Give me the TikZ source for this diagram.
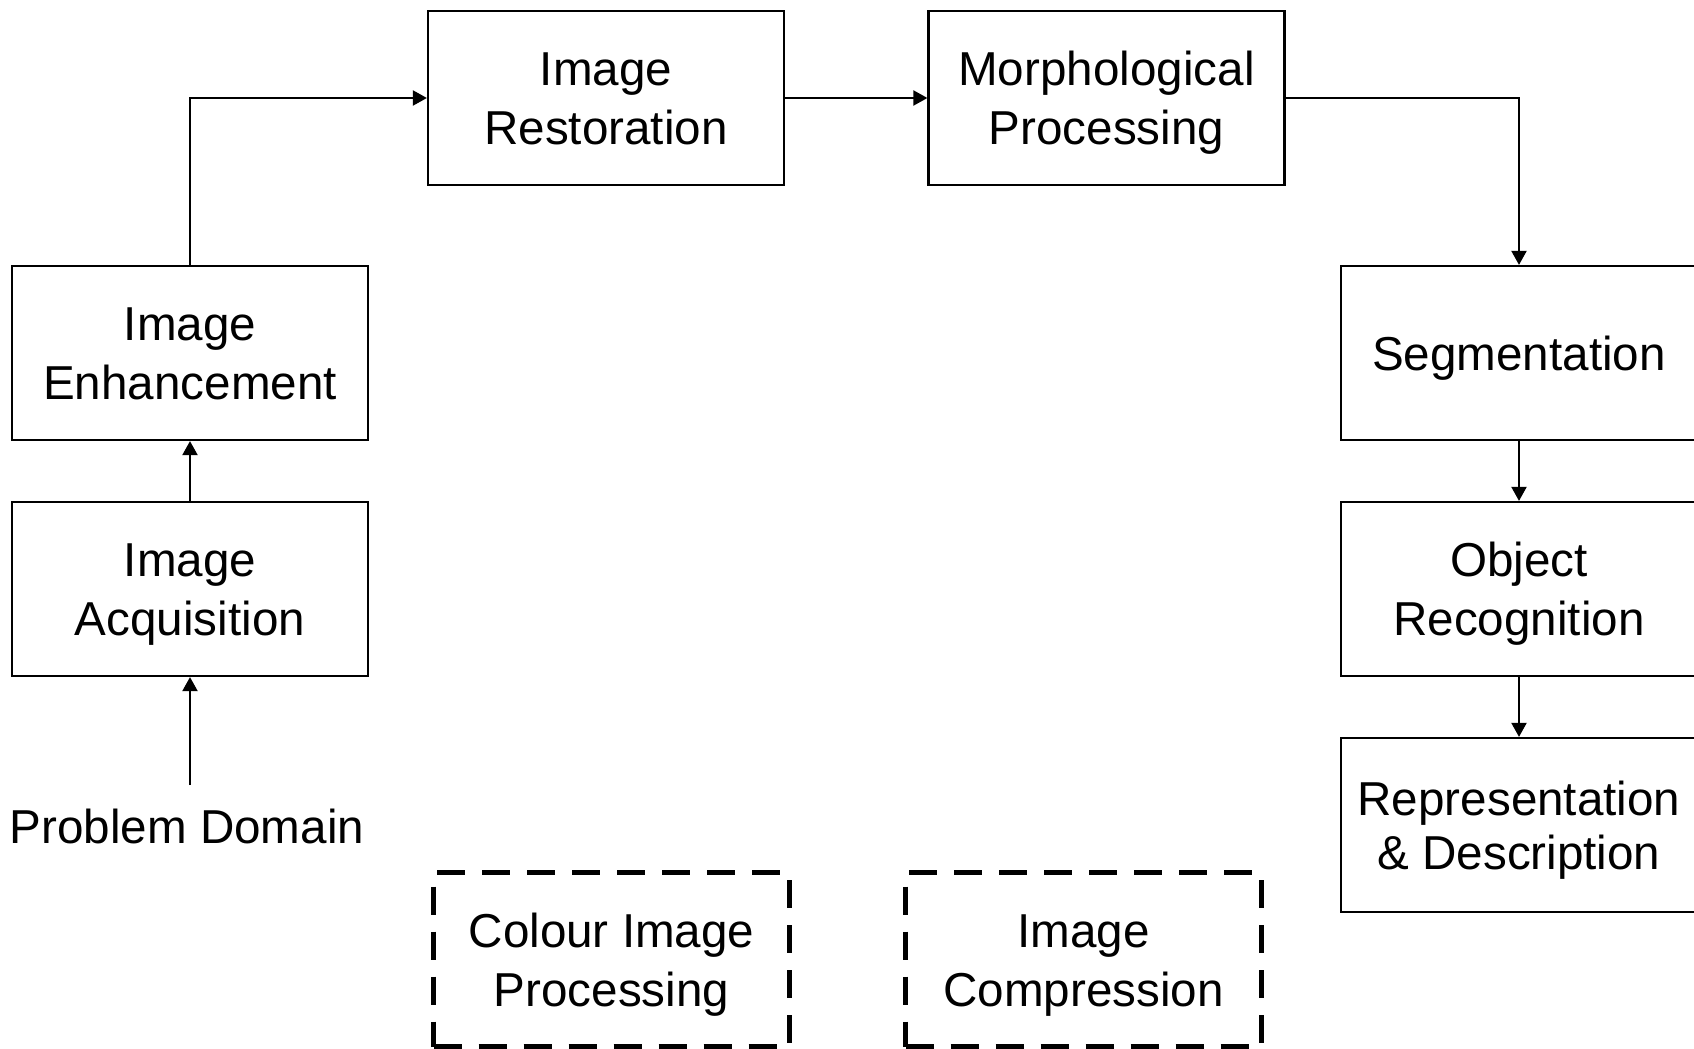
\documentclass[tikz,border=0pt]{standalone}
\usepackage{fontspec}
\setmainfont{Liberation Sans}
\usetikzlibrary{arrows.meta}
\newcommand{\bst}{\rule[-5pt]{0pt}{27pt}}
\tikzset{
  box/.style={draw=black, line width=1.1pt, minimum width=178pt, minimum height=87pt,
    align=center, inner sep=0pt, font=\fontsize{23.8}{29.5}\selectfont},
  dbox/.style={box, line width=2.2pt, dash pattern=on 14pt off 8.5pt},
  arr/.style={line width=1pt, -{Triangle[length=7pt,width=7.5pt]}}
}
\begin{document}
\begin{tikzpicture}[x=0.5pt,y=-0.5pt]
\useasboundingbox (0,0) rectangle (1694,1049);
\clip (0,0) rectangle (1694,1049);
\node[box] (res) at (606,98) {\bst Image\\\bst Restoration};
\node[box] (mor) at (1106.5,98) {\bst Morphological\\\bst Processing};
\node[box] (enh) at (190,353) {\bst Image\\\bst Enhancement};
\node[box] (acq) at (190,589) {\bst Image\\\bst Acquisition};
\node[box] (seg) at (1519,353) {\bst Segmentation};
\node[box] (obj) at (1519,589) {\bst Object\\\bst Recognition};
\node[box, font=\fontsize{23.8}{27}\selectfont] (rep) at (1519,825) {\bst Representation\\\bst\&~Description};
\node[dbox] (col) at (611.5,959.5) {\bst Colour Image\\\bst Processing};
\node[dbox] (cmp) at (1083.5,959.5) {\bst Image\\\bst Compression};
\node[anchor=base, inner xsep=0pt, inner ysep=11.5pt, font=\fontsize{23.8}{29.5}\selectfont] (pd) at (187,843) {Problem Domain};
\draw[arr] (acq.south |- pd.north) -- (acq.south);
\draw[arr] (acq.north) -- (enh.south);
\draw[arr] (enh.north) |- (res.west);
\draw[arr] (res.east) -- (mor.west);
\draw[arr] (mor.east) -| (seg.north);
\draw[arr] (seg.south) -- (obj.north);
\draw[arr] (obj.south) -- (rep.north);
\end{tikzpicture}
\end{document}
